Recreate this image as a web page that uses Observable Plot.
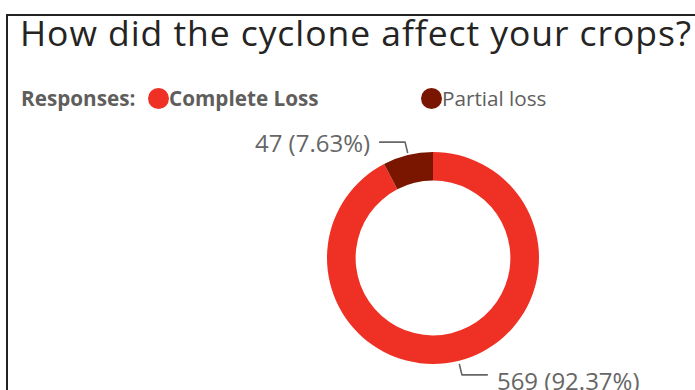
<!DOCTYPE html>
<html><head><meta charset="utf-8">
<script src="https://cdn.jsdelivr.net/npm/d3@7"></script>
<script src="https://cdn.jsdelivr.net/npm/@observablehq/plot@0.6"></script>
<style>
html,body{margin:0;padding:0;background:#fff;width:695px;height:390px;overflow:hidden;}
#frame{position:absolute;left:6px;top:14px;width:740px;height:420px;border-left:2px solid #222;border-top:2px solid #222;}
#title{position:absolute;left:20px;top:10px;font-family:"Open Sans",sans-serif;font-size:35.5px;color:#252423;white-space:nowrap;line-height:44px;}
#legend{position:absolute;left:0;top:83px;width:695px;height:30px;font-family:"Open Sans",sans-serif;font-size:20.7px;color:#605E5C;white-space:nowrap;}
#legend span{position:absolute;top:0;line-height:30px;}
#legend .dot{display:inline-block;width:21px;height:21px;border-radius:50%;vertical-align:-3px;}
#chart{position:absolute;left:0;top:116px;}
</style></head><body>
<div id="frame"></div>
<div id="title"></div>
<div id="legend"></div>
<div id="chart"></div>
<script>
const titleText = "How did the cyclone affect your crops?";
const legendTitle = "Responses:";
const categories = ["Complete Loss", "Partial loss"];
const counts = [569, 47];
const percentLabels = ["92.37%", "7.63%"];
const colors = ["#EE3124", "#7A1600"];

const titleEl = document.getElementById("title");
titleEl.textContent = titleText;
// fit title width to the reference span
const targetW = 672;
const w0 = titleEl.getBoundingClientRect().width;
titleEl.style.letterSpacing = ((targetW - w0) / titleText.length) + "px";

// legend
const legend = document.getElementById("legend");
const legendLefts = [21, 148, 421];
const lt = document.createElement("span");
lt.textContent = legendTitle; lt.style.left = legendLefts[0] + "px"; lt.style.fontWeight = "700";
legend.appendChild(lt);
categories.forEach((c, i) => {
  const s = document.createElement("span");
  s.style.left = legendLefts[i + 1] + "px";
  s.style.fontWeight = i === 0 ? "700" : "400";
  const d = document.createElement("span");
  d.className = "dot"; d.style.position = "static"; d.style.background = colors[i];
  s.appendChild(d);
  s.appendChild(document.createTextNode(c));
  legend.appendChild(s);
});

// data table
const data = categories.map((c, i) => ({category: c, count: counts[i], pct: percentLabels[i]}));
const arcs = d3.pie().sort(null).value(d => d.count)(data);
const innerRatio = 0.73;

// leader lines and labels computed from slice mid-angles
const leaders = [];
const labels = [];
arcs.forEach(a => {
  const t = (a.startAngle + a.endAngle) / 2;
  const sx = Math.sin(t), sy = Math.cos(t);
  const side = sx < 0 ? -1 : 1;
  const x0 = 1.03 * sx, y0 = 1.03 * sy;
  const x1 = 1.13 * sx, y1 = 1.13 * sy;
  const x2 = x1 + side * 0.24;
  leaders.push({category: a.data.category, x: x0, y: y0}, {category: a.data.category, x: x1, y: y1}, {category: a.data.category, x: x2, y: y1});
  labels.push({category: a.data.category, side, x: x1 + side * 0.33, y: y1 - (sy < 0 ? 0.072 : 0.025), text: `${a.data.count} (${a.data.pct})`});
});

function donutMark(index, scales) {
  const cx = scales.x(0), cy = scales.y(0);
  const rOuter = scales.x(1) - scales.x(0);
  const color = scales.color || d3.scaleOrdinal(categories, colors);
  const arc = d3.arc().innerRadius(rOuter * innerRatio).outerRadius(rOuter);
  const g = d3.create("svg:g").attr("transform", `translate(${cx},${cy})`);
  g.selectAll("path").data(arcs).join("path").attr("d", arc).attr("fill", d => color(d.data.category));
  return g.node();
}

const R = 106, CX = 433, CY = 142;
const chart = Plot.plot({
  width: 695,
  height: 274,
  margin: 0,
  x: {domain: [-1, 1], range: [CX - R, CX + R], axis: null},
  y: {domain: [-1, 1], range: [CY + R, CY - R], axis: null},
  color: {domain: categories, range: colors},
  style: {background: "transparent", overflow: "visible"},
  marks: [
    donutMark,
    Plot.line(leaders, {x: "x", y: "y", z: "category", stroke: "#666", strokeWidth: 1.6, curve: "linear"}),
    Plot.text(labels.filter(d => d.side < 0), {x: "x", y: "y", text: "text", textAnchor: "end", fill: "#666", fontSize: 24, fontFamily: "Open Sans"}),
    Plot.text(labels.filter(d => d.side > 0), {x: "x", y: "y", text: "text", textAnchor: "start", fill: "#666", fontSize: 24, fontFamily: "Open Sans"})
  ]
});
document.getElementById("chart").appendChild(chart);
</script>
</body></html>
